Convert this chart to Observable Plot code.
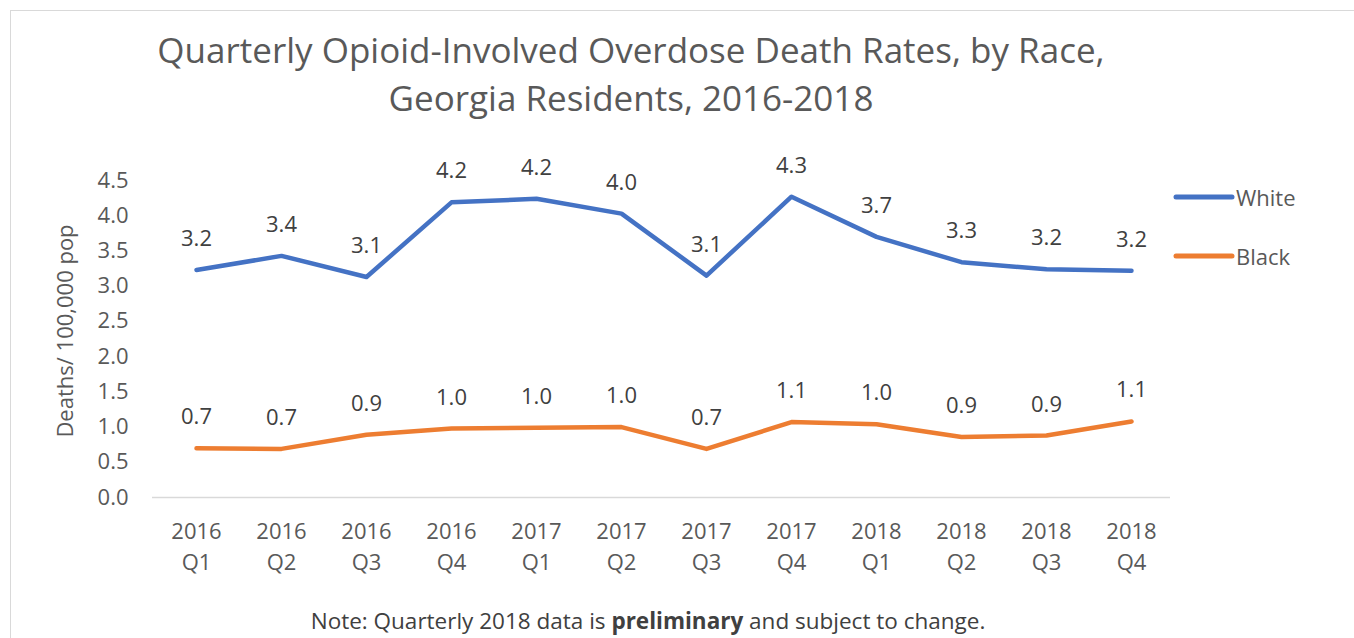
<!DOCTYPE html>
<html><head><meta charset="utf-8">
<script src="https://cdn.jsdelivr.net/npm/d3@7"></script>
<script src="https://cdn.jsdelivr.net/npm/@observablehq/plot@0.6"></script>
<style>
body{margin:0;background:#fff;font-family:"Open Sans",sans-serif;}
#wrap{position:relative;width:1354px;height:638px;overflow:hidden;}
#frame{position:absolute;left:10px;top:10px;width:1360px;height:660px;border:1px solid #d9d9d9;box-sizing:border-box;}
#title{position:absolute;left:0;width:1262px;top:26px;text-align:center;font-size:35px;line-height:48px;color:#595959;}
#plot{position:absolute;left:0;top:140px;}
#legend{position:absolute;left:1173px;top:182px;font-size:22px;color:#595959;}
#legend div{display:flex;align-items:center;height:30px;margin-bottom:29px;}
#note{position:absolute;left:0;width:1296px;top:605px;text-align:center;font-size:22.5px;color:#404040;}
</style></head>
<body><div id="wrap"><div id="frame"></div>
<div id="title">Quarterly Opioid-Involved Overdose Death Rates, by Race,<br>Georgia Residents, 2016-2018</div>
<div id="plot"></div>
<div id="legend"></div>
<div id="note">Note: Quarterly 2018 data is <b>preliminary</b> and subject to change.</div>
</div>
<script>
const quarters = ["2016 Q1","2016 Q2","2016 Q3","2016 Q4","2017 Q1","2017 Q2","2017 Q3","2017 Q4","2018 Q1","2018 Q2","2018 Q3","2018 Q4"];
const white = [3.23,3.43,3.13,4.19,4.24,4.03,3.15,4.27,3.70,3.34,3.24,3.22];
const black = [0.70,0.69,0.89,0.98,0.99,1.00,0.69,1.07,1.04,0.86,0.88,1.08];
const seriesNames = ["White","Black"];
const colors = ["#4472C4","#ED7D31"];
const yTicks = [0,0.5,1,1.5,2,2.5,3,3.5,4,4.5];

const rows = [];
quarters.forEach((q,i)=>{ rows.push({q, v:white[i], s:"White"}); rows.push({q, v:black[i], s:"Black"}); });

const plot = Plot.plot({
  width:1354, height:450,
  marginTop:40, marginBottom:93, marginLeft:152, marginRight:180,
  style:{fontFamily:"Open Sans, sans-serif", fontSize:"22px", color:"#595959", background:"transparent", overflow:"visible"},
  x:{type:"point", domain:quarters, padding:0.5, label:null},
  y:{domain:[0,4.5], label:null},
  color:{domain:seriesNames, range:colors},
  marks:[
    Plot.axisY({ticks:yTicks, tickSize:0, tickPadding:24, tickFormat:d=>d.toFixed(1), fontSize:22, label:null}),
    Plot.text(["Deaths/ 100,000 pop"], {frameAnchor:"left", textAnchor:"middle", dx:-87, dy:-8, rotate:-90, fontSize:22, fill:"#595959"}),
    Plot.axisX({tickSize:0, tickPadding:20, tickFormat:d=>d.replace(" ","\n"), fontSize:22, lineHeight:1.4, label:null}),
    Plot.ruleY([0], {stroke:"#d9d9d9", strokeWidth:1.5, insetRight:4}),
    Plot.line(rows, {x:"q", y:"v", z:"s", stroke:{value:"s", scale:"color"}, strokeWidth:4.5, strokeLinecap:"round", strokeLinejoin:"round"}),
    Plot.text(rows, {x:"q", y:"v", text:d=>d.v.toFixed(1), dy:-31, fontSize:22, fill:"#404040"})
  ]
});
document.getElementById("plot").appendChild(plot);

const leg = document.getElementById("legend");
seriesNames.forEach((n,i)=>{
  const d = document.createElement("div");
  d.innerHTML = `<svg width="62" height="10" style="margin-right:1px"><line x1="3" y1="5" x2="59" y2="5" stroke="${colors[i]}" stroke-width="5" stroke-linecap="round"/></svg><span>${n}</span>`;
  leg.appendChild(d);
});
</script></body></html>
